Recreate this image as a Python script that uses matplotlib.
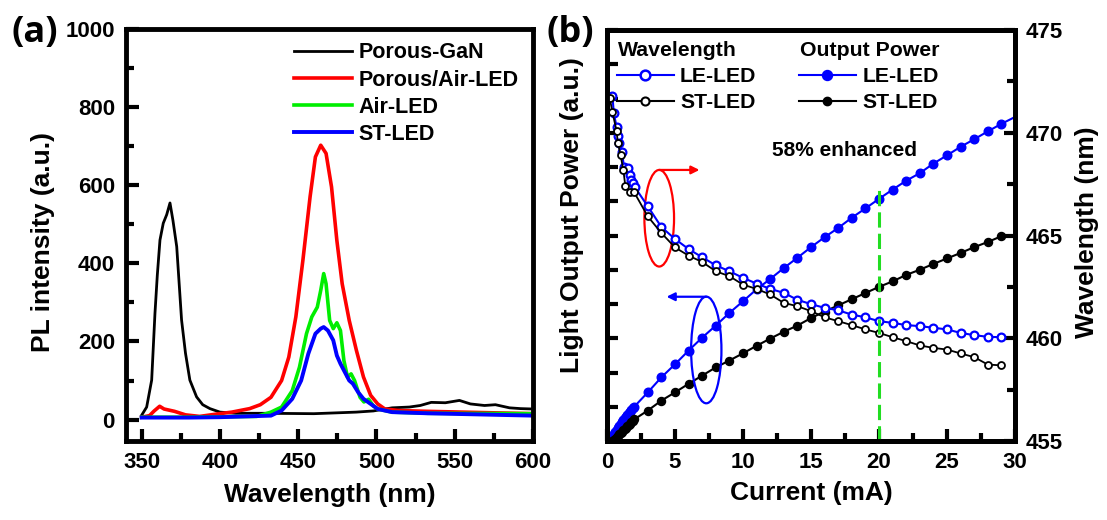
import matplotlib
matplotlib.use('Agg')
import matplotlib.pyplot as plt
from matplotlib.patches import Ellipse
from matplotlib.lines import Line2D
from matplotlib.ticker import MultipleLocator, NullFormatter

plt.rcParams['font.family'] = ['Liberation Sans', 'DejaVu Sans']
plt.rcParams['font.weight'] = 'bold'
plt.rcParams['axes.labelweight'] = 'bold'

# ---------------- Panel (a): PL spectra ----------------
gan_nm = [350, 353.2, 356.4, 358.5, 360, 361.7, 363.8, 366, 368.1, 370, 372.4, 375.5, 378, 380.8,
          385.1, 389, 393.6, 400, 410, 430, 460, 487, 498, 510, 521, 528, 535, 544, 553, 560,
          569, 576, 585, 592, 600]
gan_pl = [11, 32, 101, 272, 370, 460, 503, 525, 555, 510, 443, 255, 170, 101,
          58, 38, 28, 19, 16, 16, 15, 19, 22, 30, 32, 36, 44, 43, 49, 40,
          36, 38, 30, 28, 27]

pa_nm = [350, 355, 358, 361.5, 364.3, 371, 378, 387, 396, 407.6, 419, 425.8, 432.6, 439.4, 444,
         448.5, 453, 457.6, 461, 464.4, 467.8, 471.3, 474.7, 478.1, 482.6, 487.2, 491.7, 496.3,
         500.8, 505.4, 514.5, 532.7, 555, 600]
pa_pl = [6, 10, 22, 34, 27, 21, 12, 8, 13, 19, 28, 38, 57, 100, 160,
         263, 408, 571, 673, 703, 682, 596, 459, 348, 254, 177, 109, 62,
         40, 27, 23, 21, 19, 15]

air_nm = [350, 380, 400, 423.5, 432.6, 439.4, 446.2, 450.8, 455.3, 458.7, 462.2, 464.4, 466.3,
          467.8, 470.1, 472.4, 474.7, 477, 479.2, 481.5, 483.8, 486, 489.5, 492, 495, 498,
          500.8, 510, 532.7, 600]
air_pl = [6, 6, 7, 8, 19, 32, 74, 134, 220, 263, 288, 331, 374,
          348, 254, 233, 248, 228, 151, 109, 117, 100, 57, 45, 52, 35,
          27, 19, 16, 15]

st_nm = [350, 380, 400, 432.6, 439.4, 446.2, 451.9, 456.5, 461, 464.4, 466.3, 469, 472.4, 474.7,
         477, 479.2, 482.6, 484.9, 488.3, 491.7, 496.3, 500.8, 510, 532.7, 600]
st_pl = [5, 5, 6, 10, 23, 53, 100, 169, 220, 233, 237, 228, 203, 164,
         143, 126, 100, 92, 70, 53, 40, 27, 19, 16, 10]

# ---------------- Panel (b): L-I and wavelength ----------------
le_p_I = [0.1, 0.2, 0.3, 0.4, 0.5, 0.6, 0.7, 0.8, 0.9, 1.0, 1.1, 1.2, 1.3, 1.4, 1.5, 1.6, 1.7,
          1.8, 1.9, 2.0, 3, 4, 5, 6, 7, 8, 9, 10, 11, 12, 13, 14,
          15, 16, 17, 18, 19, 20, 21, 22, 23, 24, 25, 26, 27, 28, 29, 30]
le_p = [0.0, 0.03, 0.08, 0.14, 0.2, 0.26, 0.32, 0.38, 0.44, 0.5, 0.55, 0.6, 0.66, 0.71, 0.76,
        0.81, 0.86, 0.91, 0.96, 1.0, 1.42, 1.86, 2.24, 2.64, 3.02,
        3.37, 3.74, 4.08, 4.43, 4.73, 5.05, 5.35, 5.66, 5.95, 6.22, 6.52, 6.79, 7.07, 7.34,
        7.60, 7.82, 8.10, 8.34, 8.59, 8.81, 9.04, 9.26, 9.46]

st_p_I = [0.4, 0.5, 0.6, 0.7, 0.8, 0.9, 1.0, 1.1, 1.2, 1.3, 1.4, 1.5, 1.6, 1.7, 1.8, 1.9, 2.0,
          3, 4, 5, 6, 7, 8, 9, 10, 11, 12, 13, 14,
          15, 16, 17, 18, 19, 20, 21, 22, 23, 24, 25, 26, 27, 28, 29]
st_p = [0.0, 0.03, 0.07, 0.11, 0.15, 0.19, 0.23, 0.27, 0.31, 0.35, 0.39, 0.43, 0.47, 0.51, 0.55,
        0.59, 0.63, 0.89, 1.18, 1.42, 1.67, 1.91,
        2.15, 2.35, 2.56, 2.78, 2.99, 3.19, 3.37, 3.59, 3.78, 3.96, 4.14, 4.32, 4.50, 4.66,
        4.85, 5.00, 5.17, 5.33, 5.49, 5.66, 5.81, 5.98]

le_wl_I = [0.4, 0.5, 0.7, 0.8, 0.9, 1.1, 1.25, 1.55, 1.7, 1.8, 1.9, 2.05, 3, 4, 5, 6, 7, 8, 9, 10,
           11, 12, 13, 14, 15, 16, 17, 18, 19, 20, 21, 22, 23, 24, 25, 26, 27, 28, 29]
le_wl = [471.8, 470.95, 470.3, 469.85, 469.5, 469.08, 468.32, 468.27, 467.94, 467.7, 467.54,
         467.35, 466.42, 465.41, 464.83, 464.34, 463.94, 463.55, 463.26, 462.94, 462.66, 462.40,
         462.21, 461.87, 461.66, 461.48, 461.36, 461.15, 461.02, 460.83, 460.75, 460.64, 460.59,
         460.51, 460.43, 460.26, 460.15, 460.07, 460.05]

st_wl_I = [0.2, 0.4, 0.7, 0.8, 1.0, 1.2, 1.35, 1.7, 2.0, 3, 4, 5, 6, 7, 8, 9, 10, 11, 12, 13, 14,
           15, 16, 17, 18, 19, 20, 21, 22, 23, 24, 25, 26, 27, 28, 29]
st_wl = [471.7, 471.0, 470.1, 469.5, 468.9, 468.2, 467.4, 467.12, 467.1, 465.93, 465.12, 464.42,
         464.02, 463.71, 463.26, 463.02, 462.61, 462.40, 462.13, 461.72, 461.56, 461.32, 461.02,
         460.83, 460.64, 460.43, 460.26, 460.05, 459.86, 459.65, 459.53, 459.45, 459.26, 459.08,
         458.72, 458.68]

BLUE = '#0000ff'
GREEN_DASH = '#22dd22'

fig = plt.figure(figsize=(11.07, 5.2), dpi=100)
W, H = 1107.0, 520.0


def box(l, t, r, b):
    return [l / W, 1 - b / H, (r - l) / W, (b - t) / H]


def style_spines(ax):
    for s in ax.spines.values():
        s.set_linewidth(3.5)


# ----- Panel (a) -----
axa = fig.add_axes(box(126, 29.3, 533, 441))
axa.plot(gan_nm, gan_pl, color='black', lw=2.0, label='Porous-GaN')
axa.plot(pa_nm, pa_pl, color='#ff0000', lw=2.6, label='Porous/Air-LED')
axa.plot(air_nm, air_pl, color='#00ee00', lw=2.6, label='Air-LED')
axa.plot(st_nm, st_pl, color=BLUE, lw=2.8, label='ST-LED')
axa.set_xlim(340, 600)
axa.set_ylim(-55, 1000)
axa.xaxis.set_major_locator(MultipleLocator(50))
axa.xaxis.set_minor_locator(MultipleLocator(25))
axa.yaxis.set_major_locator(MultipleLocator(200))
axa.yaxis.set_minor_locator(MultipleLocator(100))
axa.tick_params(which='both', direction='in', width=3, labelsize=16, pad=8)
axa.tick_params(which='major', length=9)
axa.tick_params(which='minor', length=6)
style_spines(axa)
axa.legend(loc='upper left', bbox_to_anchor=(0.414, 0.968), frameon=False,
           fontsize=15.5, handlelength=2.65, handletextpad=0.33, labelspacing=0.28,
           borderpad=0, borderaxespad=0)

# ----- Panel (b) -----
axb = fig.add_axes(box(607, 30, 1015, 441))
axb2 = axb.twinx()
axb.plot(le_p_I, le_p, color=BLUE, lw=1.5, marker='o', ms=6.2, mfc=BLUE, mec=BLUE,
         markevery=list(range(len(le_p_I) - 1)))
axb.plot(st_p_I, st_p, color='black', lw=1.5, marker='o', ms=5.8, mfc='black', mec='black')
axb.set_xlim(0, 30)
axb.set_ylim(0, 12)
axb.xaxis.set_major_locator(MultipleLocator(5))
axb.xaxis.set_minor_locator(MultipleLocator(2.5))
axb.yaxis.set_major_locator(MultipleLocator(1))
axb.yaxis.set_major_formatter(NullFormatter())
axb.tick_params(which='both', direction='in', width=3, labelsize=16, pad=8)
axb.tick_params(axis='x', which='major', length=9)
axb.tick_params(axis='x', which='minor', length=6)
axb.tick_params(axis='y', which='major', length=8)
style_spines(axb)

axb2.plot(le_wl_I, le_wl, color=BLUE, lw=1.5, marker='o', ms=5.6, mfc='white', mec=BLUE, mew=1.6)
axb2.plot(st_wl_I, st_wl, color='black', lw=1.3, marker='o', ms=5.0, mfc='white', mec='black',
          mew=1.3)
axb2.set_ylim(455, 475)
axb2.yaxis.set_major_locator(MultipleLocator(5))
axb2.yaxis.set_minor_locator(MultipleLocator(2.5))
axb2.tick_params(which='both', direction='in', width=3, labelsize=16, pad=8)
axb2.tick_params(which='major', length=8)
axb2.tick_params(which='minor', length=6)
style_spines(axb2)

# green dashed marker at 20 mA
axb2.plot([20, 20], [455, 467.46], color=GREEN_DASH, lw=2.2, dashes=(5, 2))

# ellipses + arrows
axb2.add_patch(Ellipse((3.84, 465.84), 2.18, 4.7, fill=False, ec='#ff0000', lw=1.6))
axb2.annotate('', xy=(6.8, 468.19), xytext=(3.84, 468.19),
              arrowprops=dict(arrowstyle='-|>', color='#ff0000', lw=1.6, mutation_scale=12,
                              shrinkA=0, shrinkB=0))
axb2.add_patch(Ellipse((7.3, 459.43), 2.23, 5.19, fill=False, ec=BLUE, lw=1.6))
axb2.annotate('', xy=(4.38, 462.02), xytext=(7.3, 462.02),
              arrowprops=dict(arrowstyle='-|>', color=BLUE, lw=1.6, mutation_scale=12,
                              shrinkA=0, shrinkB=0))

axb2.text(17.5, 469.16, '58% enhanced', fontsize=15, ha='center', va='center')

handles = [
    Line2D([], [], color=BLUE, lw=1.5, marker='o', ms=7, mfc='white', mec=BLUE, mew=1.8),
    Line2D([], [], color='black', lw=1.5, marker='o', ms=5.8, mfc='white', mec='black', mew=1.5),
    Line2D([], [], color=BLUE, lw=1.5, marker='o', ms=7.2, mfc=BLUE, mec=BLUE),
    Line2D([], [], color='black', lw=1.5, marker='o', ms=6, mfc='black', mec='black'),
]
axb2.legend(handles, ['LE-LED', 'ST-LED', 'LE-LED', 'ST-LED'], ncol=2, loc='upper left',
            bbox_to_anchor=(0.024, 0.91), frameon=False, fontsize=15.3, handlelength=2.67,
            handletextpad=0.31, columnspacing=2.0, labelspacing=0.33, borderpad=0,
            borderaxespad=0)
axb2.text(0.027, 0.9375, 'Wavelength', transform=axb2.transAxes, fontsize=15.3,
          ha='left', va='baseline')
axb2.text(0.473, 0.9375, 'Output Power', transform=axb2.transAxes, fontsize=15.3,
          ha='left', va='baseline')

# axis labels and panel tags
fig.text(43 / W, 1 - 242 / H, 'PL intensity (a.u.)', rotation=90, ha='center', va='center',
         fontsize=19)
fig.text(330 / W, 1 - 495 / H, 'Wavelength (nm)', ha='center', va='center', fontsize=19)
fig.text(811 / W, 1 - 493 / H, 'Current (mA)', ha='center', va='center', fontsize=19)
fig.text(572 / W, 1 - 215 / H, 'Light Output Power (a.u.)', rotation=90, ha='center',
         va='center', fontsize=19)
fig.text(1087 / W, 1 - 232 / H, 'Wavelength (nm)', rotation=90, ha='center', va='center',
         fontsize=19)
fig.text(35 / W, 1 - 33 / H, '(a)', ha='center', va='center', fontsize=26,
         family=['Open Sans', 'DejaVu Sans'], weight='bold')
fig.text(570 / W, 1 - 33 / H, '(b)', ha='center', va='center', fontsize=26,
         family=['Open Sans', 'DejaVu Sans'], weight='bold')

fig.savefig('out.png', dpi=100)
